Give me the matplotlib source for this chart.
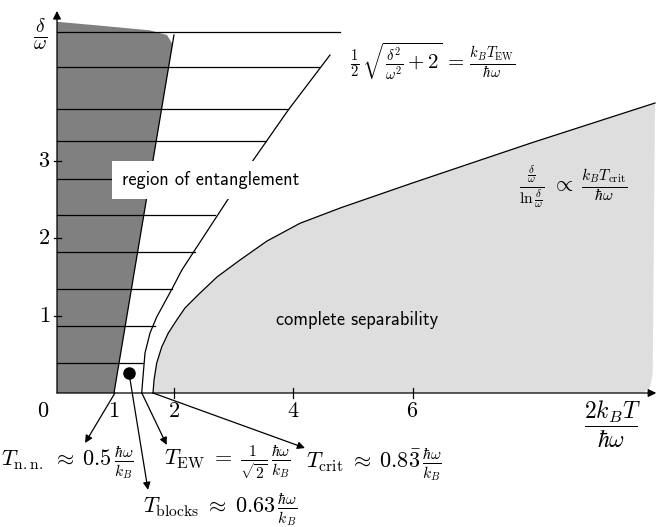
import matplotlib
matplotlib.use("Agg")
import matplotlib.pyplot as plt
import numpy as np

plt.rcParams["mathtext.fontset"] = "cm"

# hatch levels (delta/omega) and where each line stops
hatch_y = [4.66, 4.21, 3.66, 3.25, 2.76, 2.30, 1.82, 1.34, 0.86, 0.39]
hatch_end = [4.79, 4.44, 3.92, 3.54, 3.10, 2.70, 2.36, 1.98, 1.69, 1.49]

# nearest-neighbour entanglement region (dark)
nn_x = [0.05, 0.05, 0.77, 1.60, 1.89, 1.985, 1.004]
nn_y = [0.0, 4.79, 4.74, 4.68, 4.62, 4.50, 0.0]
nn_line_x = [1.004, 2.008]
nn_line_y = [0.0, 4.62]

# entanglement witness boundary
ew_x = [1.468, 1.485, 1.523, 1.607, 1.719, 1.874, 1.983, 2.14, 2.331, 2.904, 3.336, 3.921, 4.619]
ew_y = [0.0, 0.168, 0.516, 0.774, 0.981, 1.2, 1.355, 1.587, 1.813, 2.49, 3.006, 3.652, 4.361]

# critical temperature boundary (complete separability)
crit_x = [1.657, 1.674, 1.719, 1.803, 1.913, 2.054, 2.192, 2.326, 2.444, 2.728,
          3.113, 3.565, 4.117, 4.8, 6.0, 8.0, 10.059]
crit_y = [0.0, 0.168, 0.387, 0.594, 0.774, 0.942, 1.097, 1.2, 1.29, 1.497,
          1.716, 1.961, 2.19, 2.39, 2.71, 3.23, 3.742]
sep_edge_x = [10.02, 9.98, 9.88, 9.70]
sep_edge_y = [0.25, 0.08, 0.01, 0.0]

blocks_pt = (1.255, 0.258)

x_ticks = [2, 4, 6]
x_ticklabels = ["1", "2", "4", "6"]
x_ticklabel_pos = [1.0, 2, 4, 6]
y_ticks = [1, 2, 3]

fig = plt.figure(figsize=(6.57, 5.27), dpi=100)
ax = fig.add_axes([0, 0, 1, 1])
ax.set_xlim(-54 / 59.75, (657 - 54) / 59.75)
ax.set_ylim((393 - 527) / 77.5, 393 / 77.5)
ax.axis("off")

# regions
ax.fill(nn_x, nn_y, color="#808080", lw=0, zorder=1)
ax.fill(crit_x + sep_edge_x, crit_y + sep_edge_y, color="#dedede", lw=0, zorder=1)

# boundaries
line_kw = dict(color="black", lw=0.9, solid_joinstyle="round", zorder=3)
ax.plot(nn_line_x, nn_line_y, **line_kw)
ax.plot(ew_x, ew_y, **line_kw)
ax.plot(crit_x, crit_y, **line_kw)

for y, x_end in zip(hatch_y, hatch_end):
    ax.plot([0.05, x_end], [y, y], color="black", lw=0.9, zorder=2)

ax.plot(*blocks_pt, "o", color="black", ms=8, zorder=4)

# axes with arrows
ax.annotate("", xy=(10.08, 0), xytext=(0.05, 0),
            arrowprops=dict(arrowstyle="-|>", lw=0.9, color="black",
                            mutation_scale=12, shrinkA=0, shrinkB=0), zorder=5)
ax.annotate("", xy=(0.05, 4.93), xytext=(0.05, 0),
            arrowprops=dict(arrowstyle="-|>", lw=0.9, color="black",
                            mutation_scale=12, shrinkA=0, shrinkB=0), zorder=5)
for t in x_ticks:
    ax.plot([t, t], [-0.07, 0.07], color="black", lw=0.9, zorder=5)
for t in y_ticks:
    ax.plot([0.0, 0.12], [t, t], color="black", lw=0.9, zorder=5)

for lab, pos in zip(x_ticklabels, x_ticklabel_pos):
    ax.text(pos, -0.1, f"${lab}$", ha="center", va="top", fontsize=16)
for t in y_ticks:
    ax.text(-0.06, t, f"${t}$", ha="right", va="center", fontsize=16)
ax.text(-0.18, -0.1, "$0$", ha="center", va="top", fontsize=16)

ax.text(9.34, -0.41, r"$\dfrac{2k_BT}{\hbar\omega}$", ha="center", va="center", fontsize=17)
ax.text(-0.23, 4.62, r"$\frac{\delta}{\omega}$", ha="center", va="center", fontsize=20)

# region labels
ax.text(2.62, 2.75, "region of entanglement", family="cmss10", fontsize=13.2,
        ha="center", va="center", zorder=6,
        bbox=dict(facecolor="white", edgecolor="none", boxstyle="square,pad=0.55"))
ax.text(5.07, 0.94, "complete separability", family="cmss10", fontsize=13.2,
        ha="center", va="center", zorder=6)

ax.text(4.96, 4.27, r"$\frac{1}{2}\,\sqrt{\frac{\delta^2}{\omega^2}+2}\,=\,\frac{k_BT_{\mathrm{EW}}}{\hbar\omega}$",
        ha="left", va="center", fontsize=15)
ax.text(8.69, 2.66, r"$\frac{\frac{\delta}{\omega}}{\ln\frac{\delta}{\omega}}\;\propto\;\frac{k_BT_{\mathrm{crit}}}{\hbar\omega}$",
        ha="center", va="center", fontsize=16)

# temperature annotations
arrow_kw = dict(arrowstyle="-|>", lw=0.9, color="black", mutation_scale=11,
                shrinkA=0, shrinkB=0)
ax.annotate("", xy=(0.52, -0.645), xytext=(1.02, 0), arrowprops=arrow_kw)
ax.annotate("", xy=(1.573, -1.25), xytext=blocks_pt, arrowprops=arrow_kw)
ax.annotate("", xy=(1.886, -0.67), xytext=(1.47, 0), arrowprops=arrow_kw)
ax.annotate("", xy=(4.2, -0.71), xytext=(1.657, 0), arrowprops=arrow_kw)

ax.text(0.23, -0.90, r"$T_{\mathrm{n.n.}}\;\approx\;0.5\,\frac{\hbar\omega}{k_B}$",
        ha="center", va="center", fontsize=16)
ax.text(2.9, -0.90, r"$T_{\mathrm{EW}}\;=\;\frac{1}{\sqrt{2}}\,\frac{\hbar\omega}{k_B}$",
        ha="center", va="center", fontsize=16)
ax.text(5.35, -0.92, r"$T_{\mathrm{crit}}\;\approx\;0.8\bar{3}\,\frac{\hbar\omega}{k_B}$",
        ha="center", va="center", fontsize=16)
ax.text(2.78, -1.51, r"$T_{\mathrm{blocks}}\;\approx\;0.63\,\frac{\hbar\omega}{k_B}$",
        ha="center", va="center", fontsize=16)

fig.savefig("out.png", dpi=100)
